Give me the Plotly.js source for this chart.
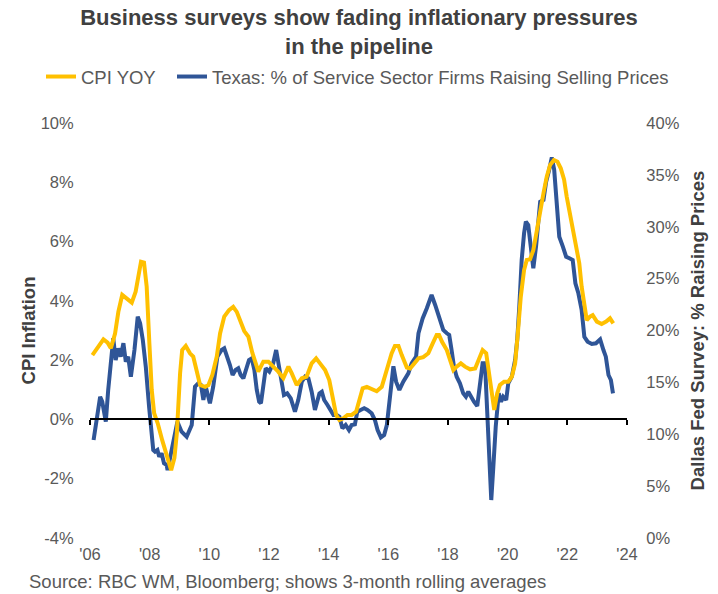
<!DOCTYPE html>
<html>
<head>
<meta charset="utf-8">
<script src="https://cdn.plot.ly/plotly-3.0.1.min.js"></script>
<style>html,body{margin:0;padding:0;background:#fff;}#chart{width:718px;height:594px;}</style>
</head>
<body>
<div id="chart"></div>
<script>
// Tick labels
const yearTicks = [2006, 2008, 2010, 2012, 2014, 2016, 2018, 2020, 2022, 2024];
const yearLabels = ["'06", "'08", "'10", "'12", "'14", "'16", "'18", "'20", "'22", "'24"];
const cpiTicks = [-4, -2, 0, 2, 4, 6, 8, 10];
const cpiLabels = ['-4%', '-2%', '0%', '2%', '4%', '6%', '8%', '10%'];
const surveyTicks = [0, 5, 10, 15, 20, 25, 30, 35, 40];
const surveyLabels = ['0%', '5%', '10%', '15%', '20%', '25%', '30%', '35%', '40%'];

// CPI YOY (3-month rolling average), %
const cpiDates = [2006.08,2006.28,2006.45,2006.59,2006.70,2006.84,2006.95,2007.08,2007.23,2007.40,2007.53,2007.64,2007.71,2007.81,2007.90,2007.99,2008.07,2008.15,2008.27,2008.42,2008.57,2008.72,2008.83,2008.91,2009.02,2009.09,2009.21,2009.35,2009.46,2009.58,2009.69,2009.86,2009.97,2010.10,2010.25,2010.36,2010.50,2010.66,2010.80,2010.92,2011.03,2011.17,2011.31,2011.44,2011.59,2011.64,2011.81,2011.98,2012.14,2012.31,2012.48,2012.65,2012.76,2012.93,2013.10,2013.26,2013.43,2013.58,2013.71,2013.88,2014.02,2014.14,2014.25,2014.36,2014.49,2014.63,2014.77,2014.92,2015.03,2015.14,2015.28,2015.44,2015.61,2015.78,2015.89,2016.00,2016.11,2016.22,2016.34,2016.45,2016.62,2016.73,2016.87,2017.01,2017.17,2017.34,2017.48,2017.62,2017.70,2017.80,2017.96,2018.07,2018.18,2018.29,2018.43,2018.57,2018.74,2018.91,2019.02,2019.16,2019.28,2019.39,2019.47,2019.55,2019.65,2019.74,2019.88,2020.02,2020.14,2020.25,2020.34,2020.44,2020.55,2020.64,2020.75,2020.86,2020.97,2021.09,2021.20,2021.31,2021.42,2021.55,2021.67,2021.78,2021.89,2021.98,2022.09,2022.20,2022.32,2022.40,2022.48,2022.56,2022.65,2022.76,2022.85,2022.99,2023.15,2023.30,2023.43,2023.54];
const cpiValues = [2.17,2.45,2.70,2.59,2.40,2.90,3.63,4.20,4.08,3.94,4.31,5.04,5.32,5.29,4.48,2.57,0.99,0.21,-0.13,-0.70,-1.26,-1.71,-1.30,-0.47,1.56,2.34,2.48,2.23,2.12,1.67,1.16,1.10,1.16,1.50,2.12,2.90,3.47,3.69,3.80,3.63,3.30,2.98,2.79,2.25,1.78,1.61,1.95,1.95,1.78,1.61,1.39,1.78,1.56,1.16,1.39,1.44,1.89,2.06,1.89,1.67,1.33,0.65,0.15,-0.02,0.04,0.15,0.15,0.26,0.71,1.05,1.10,1.02,0.95,1.10,1.50,1.84,2.23,2.48,2.48,2.17,1.75,1.72,1.91,2.06,2.10,2.23,2.55,2.85,2.85,2.62,2.34,2.00,1.67,1.78,1.89,1.78,1.69,1.72,2.00,2.34,2.23,1.44,0.65,0.32,0.88,1.16,1.27,1.27,1.44,1.89,2.90,4.14,5.04,5.38,5.40,5.71,6.33,7.06,7.63,8.19,8.58,8.75,8.69,8.47,8.10,7.51,6.90,6.33,5.77,5.27,4.48,3.92,3.35,3.47,3.52,3.30,3.22,3.30,3.41,3.24];

// Texas: % of service sector firms raising selling prices (3-month rolling average), %
const texasDates = [2006.12,2006.22,2006.34,2006.41,2006.53,2006.61,2006.70,2006.78,2006.86,2006.95,2007.03,2007.12,2007.20,2007.28,2007.37,2007.49,2007.60,2007.68,2007.77,2007.87,2007.98,2008.07,2008.12,2008.18,2008.26,2008.32,2008.40,2008.48,2008.57,2008.60,2008.74,2008.85,2008.93,2009.07,2009.24,2009.41,2009.52,2009.63,2009.72,2009.80,2009.88,2010.02,2010.13,2010.27,2010.41,2010.50,2010.60,2010.69,2010.78,2010.88,2010.97,2011.05,2011.14,2011.23,2011.33,2011.42,2011.51,2011.59,2011.67,2011.73,2011.81,2011.89,2012.01,2012.14,2012.24,2012.31,2012.43,2012.50,2012.61,2012.73,2012.87,2012.98,2013.10,2013.21,2013.32,2013.43,2013.54,2013.69,2013.77,2013.85,2013.96,2014.05,2014.16,2014.27,2014.36,2014.46,2014.57,2014.68,2014.77,2014.88,2014.96,2015.07,2015.19,2015.30,2015.44,2015.55,2015.64,2015.75,2015.86,2015.95,2016.06,2016.17,2016.26,2016.37,2016.50,2016.67,2016.78,2016.93,2017.01,2017.15,2017.29,2017.45,2017.57,2017.71,2017.84,2017.96,2018.04,2018.12,2018.20,2018.29,2018.40,2018.51,2018.60,2018.68,2018.77,2018.87,2018.98,2019.07,2019.16,2019.24,2019.32,2019.39,2019.45,2019.52,2019.60,2019.70,2019.78,2019.85,2019.95,2020.02,2020.14,2020.25,2020.32,2020.39,2020.47,2020.55,2020.61,2020.69,2020.77,2020.86,2020.95,2021.03,2021.09,2021.20,2021.29,2021.39,2021.48,2021.56,2021.64,2021.73,2021.85,2021.96,2022.07,2022.18,2022.27,2022.37,2022.48,2022.57,2022.68,2022.82,2022.96,2023.10,2023.21,2023.29,2023.38,2023.46,2023.53];
const texasValues = [9.44,11.37,13.62,13.14,11.21,14.27,16.84,19.25,17.16,18.28,17.48,18.77,16.99,17.48,15.55,18.12,21.33,20.69,19.08,16.51,12.66,10.41,8.48,8.32,8.48,7.84,8.16,7.20,7.04,6.55,8.48,10.41,11.21,10.25,9.76,10.89,14.58,14.91,14.75,13.30,14.58,12.98,14.58,17.48,18.12,18.28,17.48,16.67,15.71,16.19,16.36,15.71,15.39,16.19,17.16,17.32,16.19,14.27,13.14,12.98,14.91,16.36,16.03,16.84,18.12,16.84,14.91,13.78,13.94,13.46,12.17,13.30,15.07,15.55,15.39,14.10,12.34,13.94,14.10,13.30,12.82,12.34,11.86,11.86,11.69,10.57,10.89,10.41,10.89,10.95,12.17,12.34,12.50,12.34,12.02,11.37,10.41,9.70,9.93,10.89,13.94,16.55,15.07,14.27,15.07,15.87,16.84,17.48,19.73,21.17,22.14,23.42,22.46,21.17,20.05,19.73,19.57,18.12,16.51,15.55,14.91,13.94,13.62,14.10,13.62,13.14,12.72,14.91,16.84,16.84,11.69,6.87,3.66,6.87,10.73,13.94,13.14,13.62,13.30,14.91,15.55,17.16,19.08,22.29,26.80,29.37,30.49,30.17,27.76,25.99,28.08,30.33,32.41,32.58,34.34,35.47,36.69,35.47,32.58,29.04,28.08,27.11,26.96,26.80,24.55,23.59,21.98,19.40,18.92,18.70,18.77,19.15,18.12,17.48,15.71,15.23,13.94];

const textGray = '#595959';
const titleGray = '#404040';
const FONT = 'Liberation Sans, Arial, sans-serif';
const PLOT_W = 537, PLOT_H = 415, ML = 90, MT = 123;
const px2x = p => (p - ML) / PLOT_W;          // paper x from pixel
const px2y = p => (MT + PLOT_H - p) / PLOT_H; // paper y from pixel

const traces = [
  {
    x: cpiDates, y: cpiValues, name: 'CPI YOY', type: 'scatter', mode: 'lines',
    line: {color: '#FFC000', width: 4}, xaxis: 'x2', yaxis: 'y', legend: 'legend'
  },
  {
    x: texasDates, y: texasValues, name: 'Texas: % of Service Sector Firms Raising Selling Prices',
    type: 'scatter', mode: 'lines',
    line: {color: '#2F5597', width: 4}, xaxis: 'x', yaxis: 'y2', legend: 'legend2'
  }
];

const legendBase = {
  orientation: 'h', xref: 'paper', yref: 'paper', xanchor: 'left', yanchor: 'middle',
  y: px2y(77), font: {family: FONT, size: 18.5, color: textGray},
  itemwidth: 30, bgcolor: 'rgba(0,0,0,0)', borderwidth: 0
};

const layout = {
  width: 718, height: 594,
  paper_bgcolor: '#ffffff', plot_bgcolor: 'rgba(0,0,0,0)',
  margin: {l: ML, r: 91, t: MT, b: 56},
  font: {family: FONT, color: textGray, size: 16},
  title: {
    text: '<b>Business surveys show fading inflationary pressures<br>in the pipeline</b>',
    font: {family: FONT, size: 22, color: titleGray},
    x: 0.5, xanchor: 'center', xref: 'container', y: 1 - 25/594, yanchor: 'top', yref: 'container'
  },
  showlegend: true,
  legend: Object.assign({}, legendBase, {x: px2x(41)}),
  legend2: Object.assign({}, legendBase, {x: px2x(172)}),
  xaxis: {
    range: [2006, 2024], tickvals: yearTicks, ticktext: yearLabels,
    showgrid: false, zeroline: false, showline: false,
    ticks: 'outside', ticklen: 1, tickcolor: 'rgba(0,0,0,0)',
    tickfont: {family: FONT, size: 16.5, color: textGray}, fixedrange: true
  },
  xaxis2: {
    overlaying: 'x', range: [2006, 2024], tickvals: yearTicks,
    anchor: 'free', position: 4/14, side: 'bottom',
    showgrid: false, zeroline: false, showline: true, linecolor: '#000000', linewidth: 2,
    ticks: 'outside', ticklen: 5, tickwidth: 2, tickcolor: '#000000',
    showticklabels: false
  },
  yaxis: {
    range: [-4, 10], tickvals: cpiTicks, ticktext: cpiLabels, anchor: 'x',
    showgrid: false, zeroline: false, showline: false,
    ticks: 'outside', ticklen: 12, tickcolor: 'rgba(0,0,0,0)',
    tickfont: {family: FONT, size: 16.5, color: textGray},
    title: {text: '<b>CPI Inflation</b>', font: {family: FONT, size: 18.5, color: titleGray}, standoff: 0}
  },
  yaxis2: {
    range: [0, 40], tickvals: surveyTicks, ticktext: surveyLabels,
    overlaying: 'y', side: 'right', anchor: 'x',
    showgrid: false, zeroline: false, showline: false,
    ticks: 'outside', ticklen: 15, tickcolor: 'rgba(0,0,0,0)',
    tickfont: {family: FONT, size: 16.5, color: textGray},
    title: {text: '<b>Dallas Fed Survey: % Raising Prices</b>', font: {family: FONT, size: 18.5, color: titleGray}, standoff: 12}
  },
  annotations: [{
    text: 'Source: RBC WM, Bloomberg; shows 3-month rolling averages',
    xref: 'paper', yref: 'paper', x: px2x(27), y: px2y(581), xanchor: 'left', yanchor: 'middle',
    showarrow: false, font: {family: FONT, size: 18.5, color: textGray}
  }]
};

Plotly.newPlot('chart', traces, layout, {displayModeBar: false, staticPlot: true});
</script>
</body>
</html>
